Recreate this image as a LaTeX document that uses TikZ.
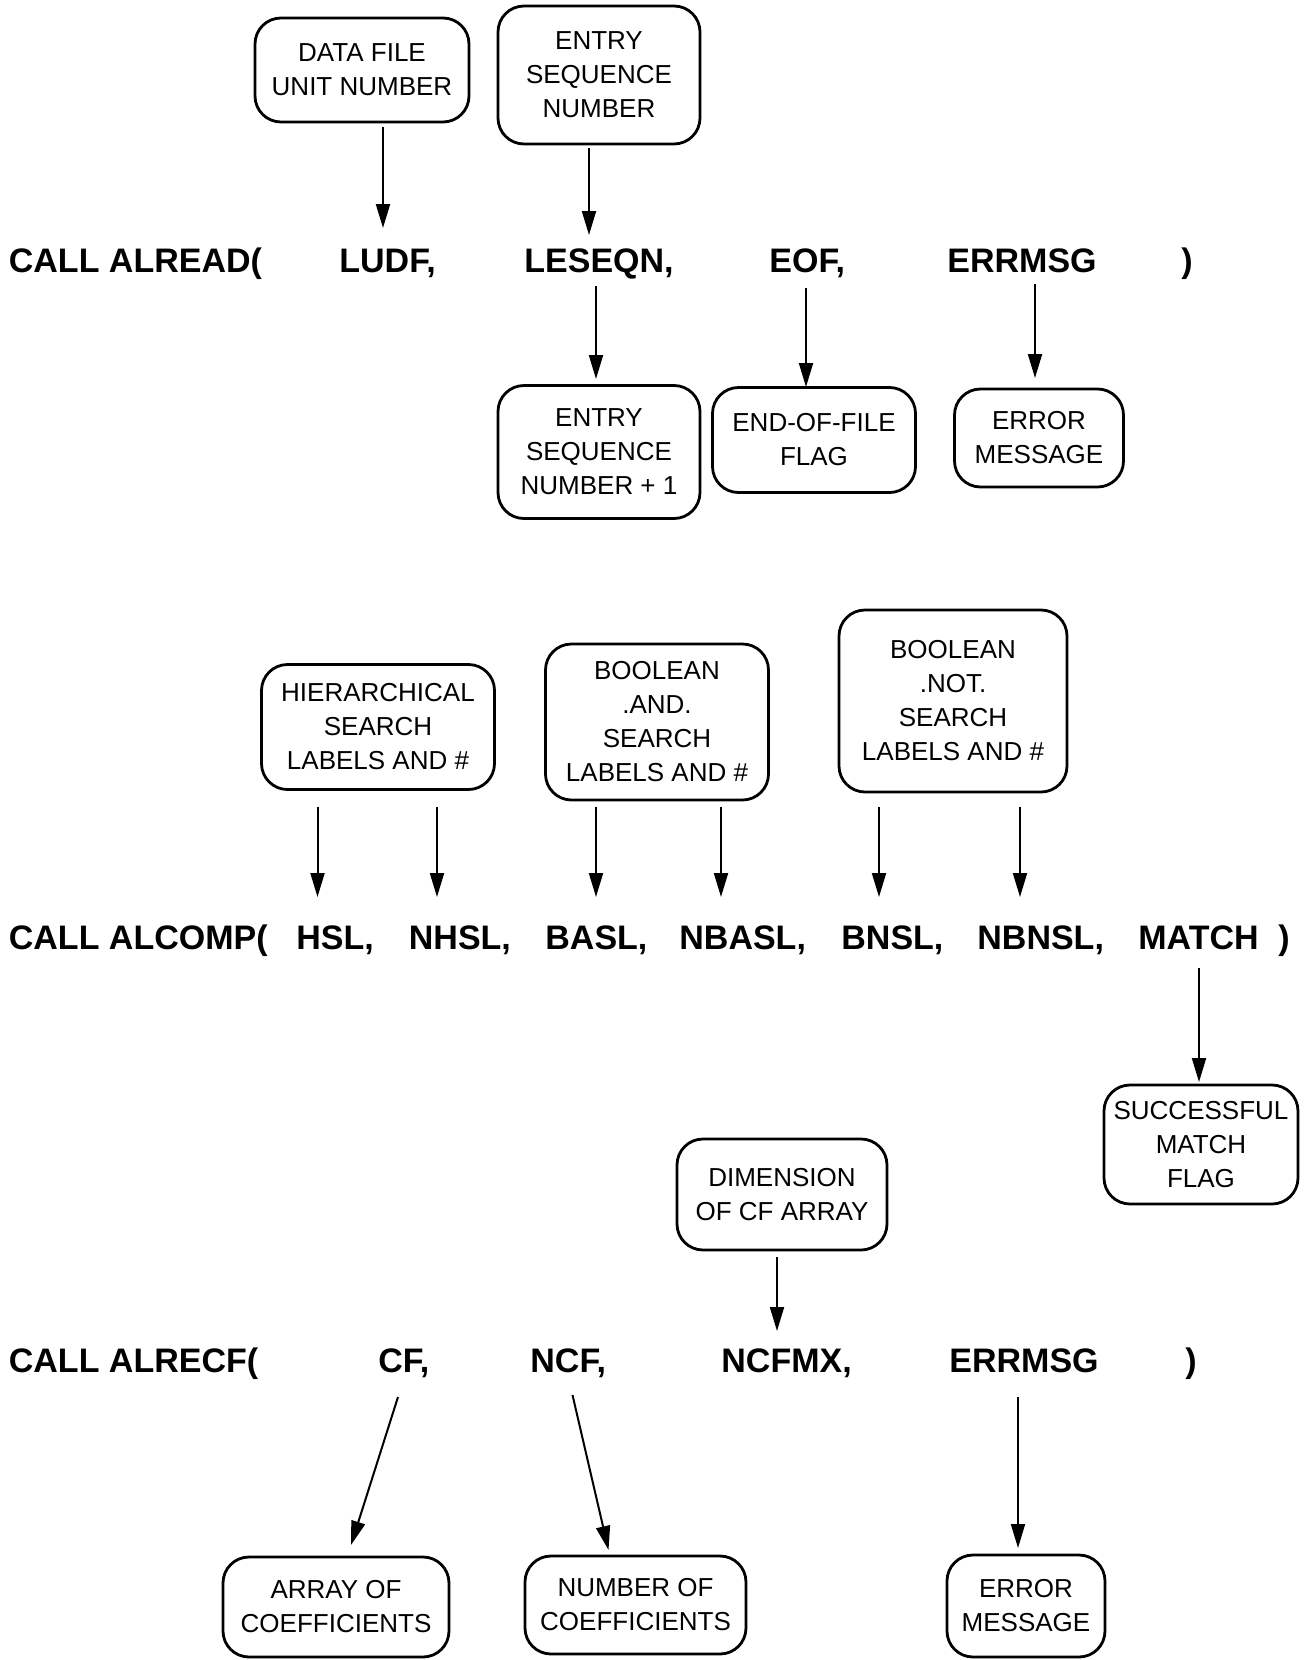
\documentclass[tikz,border=0pt]{standalone}
\usepackage{fontspec}
\setmainfont{Liberation Sans}
\usetikzlibrary{arrows.meta}
\begin{document}
\begin{tikzpicture}[x=0.5pt,y=-0.5pt,
  box/.style={draw, line width=1.4pt, rounded corners=13pt, align=center,
    font=\fontsize{13}{17}\selectfont, inner sep=0pt},
  word/.style={anchor=base west, inner sep=0pt,
    font=\fontsize{17}{20}\selectfont\bfseries},
  arr/.style={-{Triangle[length=12pt,width=7pt]}, line width=1pt}]
\useasboundingbox (0,0) rectangle (1306,1660);

% ---------- Row 1 : ALREAD ----------
\node[box, minimum width=107pt, minimum height=52pt] (dfu) at (362,70) {DATA FILE\\UNIT NUMBER};
\node[box, minimum width=101pt, minimum height=69pt] (esn) at (599,75) {ENTRY\\SEQUENCE\\NUMBER};

\node[word] (call1) at (8.5,272) {CALL ALREAD(};
\node[word] (ludf) at (339,272) {LUDF,};
\node[word] (leseqn) at (524,272) {LESEQN,};
\node[word] (eofw) at (769,272) {EOF,};
\node[word] (errw) at (947,272) {ERRMSG};
\node[word] (rpa) at (1181,272) {)};

\node[box, minimum width=101pt, minimum height=66.5pt] (esn1) at (599,452) {ENTRY\\SEQUENCE\\NUMBER + 1};
\node[box, minimum width=101.5pt, minimum height=52.5pt] (eofb) at (814,440) {END-OF-FILE\\FLAG};
\node[box, minimum width=84.5pt, minimum height=49pt] (erra) at (1039,438) {ERROR\\MESSAGE};

\coordinate (a1t) at (383,127);  \coordinate (a1h) at (383,228);
\coordinate (a2t) at (589,148);  \coordinate (a2h) at (589,235);
\coordinate (a3t) at (596,286);  \coordinate (a3h) at (596,379);
\coordinate (a4t) at (806,288);  \coordinate (a4h) at (806,387);
\coordinate (a5t) at (1035,284); \coordinate (a5h) at (1035,378);
\draw[arr] (a1t) -- (a1h);
\draw[arr] (a2t) -- (a2h);
\draw[arr] (a3t) -- (a3h);
\draw[arr] (a4t) -- (a4h);
\draw[arr] (a5t) -- (a5h);

% ---------- Row 2 : ALCOMP ----------
\node[box, minimum width=116.5pt, minimum height=62.5pt] (hier) at (378,727) {HIERARCHICAL\\SEARCH\\LABELS AND \#};
\node[box, minimum width=111.5pt, minimum height=78pt] (band) at (657,722) {BOOLEAN\\.AND.\\SEARCH\\LABELS AND \#};
\node[box, minimum width=114pt, minimum height=91pt] (bnot) at (953,701) {BOOLEAN\\.NOT.\\SEARCH\\LABELS AND \#};

\node[word] (call2) at (8.5,949) {CALL ALCOMP(};
\node[word] (hsl) at (296,949) {HSL,};
\node[word] (nhsl) at (408.5,949) {NHSL,};
\node[word] (basl) at (545,949) {BASL,};
\node[word] (nbasl) at (679,949) {NBASL,};
\node[word] (bnsl) at (841,949) {BNSL,};
\node[word] (nbnsl) at (977,949) {NBNSL,};
\node[word] (match) at (1138,949) {MATCH};
\node[word] (rpb) at (1278,949) {)};

\coordinate (b1t) at (317.5,807); \coordinate (b1h) at (317.5,897);
\coordinate (b2t) at (437,807);   \coordinate (b2h) at (437,897);
\coordinate (b3t) at (596,807);   \coordinate (b3h) at (596,897);
\coordinate (b4t) at (721,807);   \coordinate (b4h) at (721,897);
\coordinate (b5t) at (879,807);   \coordinate (b5h) at (879,897);
\coordinate (b6t) at (1020,807);  \coordinate (b6h) at (1020,897);
\draw[arr] (b1t) -- (b1h);
\draw[arr] (b2t) -- (b2h);
\draw[arr] (b3t) -- (b3h);
\draw[arr] (b4t) -- (b4h);
\draw[arr] (b5t) -- (b5h);
\draw[arr] (b6t) -- (b6h);

\node[box, minimum width=97pt, minimum height=59.5pt] (smf) at (1201,1144.5) {SUCCESSFUL\\MATCH\\FLAG};
\coordinate (b7t) at (1199,968); \coordinate (b7h) at (1199,1082);
\draw[arr] (b7t) -- (b7h);

% ---------- Row 3 : ALRECF ----------
\node[box, minimum width=105pt, minimum height=55.5pt] (dim) at (782,1194.5) {DIMENSION\\OF CF ARRAY};

\node[word] (call3) at (8.5,1372) {CALL ALRECF(};
\node[word] (cf) at (378,1372) {CF,};
\node[word] (ncf) at (530,1372) {NCF,};
\node[word] (ncfmx) at (721,1372) {NCFMX,};
\node[word] (errc) at (949,1372) {ERRMSG};
\node[word] (rpc) at (1185,1372) {)};

\node[box, minimum width=113pt, minimum height=50pt] (aoc) at (336,1607) {ARRAY OF\\COEFFICIENTS};
\node[box, minimum width=110.5pt, minimum height=49pt] (noc) at (635.5,1605) {NUMBER OF\\COEFFICIENTS};
\node[box, minimum width=79pt, minimum height=51pt] (errb) at (1026,1606) {ERROR\\MESSAGE};

\coordinate (c1t) at (777,1257);  \coordinate (c1h) at (777,1331);
\coordinate (c2t) at (398,1397);  \coordinate (c2h) at (351,1545);
\coordinate (c3t) at (572.5,1395);\coordinate (c3h) at (608.5,1550);
\coordinate (c4t) at (1018,1397); \coordinate (c4h) at (1018,1548);
\draw[arr] (c1t) -- (c1h);
\draw[arr] (c2t) -- (c2h);
\draw[arr] (c3t) -- (c3h);
\draw[arr] (c4t) -- (c4h);
\end{tikzpicture}
\end{document}
